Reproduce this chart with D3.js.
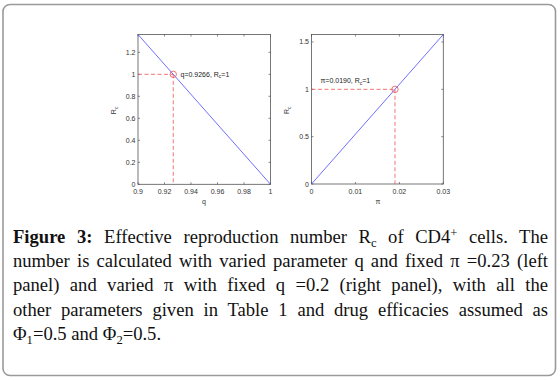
<!DOCTYPE html>
<html><head><meta charset="utf-8">
<script src="https://cdn.jsdelivr.net/npm/d3@7"></script>
<style>
body{margin:0;background:#fff;}
#wrap{position:relative;width:560px;height:381px;overflow:hidden;}
svg{position:absolute;left:0;top:0;}
.cap{position:absolute;left:13px;width:535px;font-family:"Liberation Serif","Times New Roman",serif;font-size:18.6px;color:#111;white-space:nowrap;line-height:20px;}
.just{text-align:justify;text-align-last:justify;}
.sub{font-size:0.68em;vertical-align:-0.3em;line-height:0;}
.sup{font-size:0.68em;vertical-align:0.45em;line-height:0;}
</style></head>
<body><div id="wrap"></div>
<script>
// Left panel data (q vs Rc)
const qValues = [0.9, 0.9266, 1.0];
const rcLeft = [1.362, 1.0, 0.0];
const qTicks = [0.9, 0.92, 0.94, 0.96, 0.98, 1];
const rcLeftTicks = [0, 0.2, 0.4, 0.6, 0.8, 1, 1.2];
const leftMarker = {x: 0.9266, y: 1};
const leftLabel = "q=0.9266, R";

// Right panel data (pi vs Rc)
const piValues = [0, 0.019, 0.03];
const rcRight = [0, 1.0, 1.579];
const piTicks = [0, 0.01, 0.02, 0.03];
const rcRightTicks = [0, 0.5, 1, 1.5];
const rightMarker = {x: 0.019, y: 1};
const rightLabel = "\u03c0=0.0190, R";

const captionLines = [
  '<b>Figure 3:</b> Effective reproduction number R<span class="sub">c</span> of CD4<span class="sup">+</span> cells. The',
  'number is calculated with varied parameter q and fixed \u03c0 =0.23 (left',
  'panel) and varied \u03c0 with fixed q =0.2 (right panel), with all the',
  'other parameters given in Table 1 and drug efficacies assumed as',
  '\u03a6<span class="sub">1</span>=0.5 and \u03a6<span class="sub">2</span>=0.5.'
];

const wrap = d3.select("#wrap");
const svg = wrap.append("svg").attr("width",560).attr("height",381);

// rounded border
svg.append("rect").attr("x",3).attr("y",4.5).attr("width",552.5).attr("height",371)
  .attr("rx",7).attr("fill","none").attr("stroke","#9a9a9a").attr("stroke-width",1.6);

const FS = 7;
function panel(opts){
  const {x0,x1,y0,y1,xDom,yDom,xs,ys,xTicks,yTicks,xFmt,yFmt,marker,label,labelX,labelY,xLab,xLabX,yLabX} = opts;
  const x = d3.scaleLinear().domain(xDom).range([x0,x1]);
  const y = d3.scaleLinear().domain(yDom).range([y1,y0]);
  const g = svg.append("g");
  const axColor = "#555";
  const tl = 2;
  g.append("rect").attr("x",x0).attr("y",y0).attr("width",x1-x0).attr("height",y1-y0)
    .attr("fill","none").attr("stroke",axColor).attr("stroke-width",0.8);
  xTicks.forEach(t=>{
    const px = x(t);
    g.append("line").attr("x1",px).attr("x2",px).attr("y1",y1).attr("y2",y1-tl).attr("stroke",axColor).attr("stroke-width",0.7);
    g.append("line").attr("x1",px).attr("x2",px).attr("y1",y0).attr("y2",y0+tl).attr("stroke",axColor).attr("stroke-width",0.7);
    g.append("text").attr("x",px).attr("y",y1+10).attr("text-anchor","middle")
      .attr("font-family","Liberation Sans, Arial, sans-serif").attr("font-size",FS).attr("fill","#333").text(xFmt(t));
  });
  yTicks.forEach(t=>{
    const py = y(t);
    g.append("line").attr("x1",x0).attr("x2",x0+tl).attr("y1",py).attr("y2",py).attr("stroke",axColor).attr("stroke-width",0.7);
    g.append("line").attr("x1",x1).attr("x2",x1-tl).attr("y1",py).attr("y2",py).attr("stroke",axColor).attr("stroke-width",0.7);
    g.append("text").attr("x",x0-2.5).attr("y",py+2.5).attr("text-anchor","end")
      .attr("font-family","Liberation Sans, Arial, sans-serif").attr("font-size",FS).attr("fill","#333").text(yFmt(t));
  });
  g.append("line").attr("x1",x0).attr("x2",x(marker.x)).attr("y1",y(marker.y)).attr("y2",y(marker.y))
    .attr("stroke","#f05050").attr("stroke-width",0.8).attr("stroke-dasharray","4,2.5");
  g.append("line").attr("x1",x(marker.x)).attr("x2",x(marker.x)).attr("y1",y(marker.y)).attr("y2",y1)
    .attr("stroke","#f05050").attr("stroke-width",0.8).attr("stroke-dasharray","4,2.5");
  const pts = xs.map((v,i)=>[v,ys[i]]);
  g.append("path").datum(pts).attr("d",d3.line().x(d=>x(d[0])).y(d=>y(d[1])))
    .attr("fill","none").attr("stroke","#4a4aff").attr("stroke-width",0.8);
  g.append("circle").attr("cx",x(marker.x)).attr("cy",y(marker.y)).attr("r",3.2)
    .attr("fill","none").attr("stroke","#f05050").attr("stroke-width",0.8);
  const t = g.append("text").attr("x",labelX).attr("y",labelY)
    .attr("font-family","Liberation Sans, Arial, sans-serif").attr("font-size",FS).attr("fill","#222");
  t.append("tspan").text(label);
  t.append("tspan").attr("font-size",5).attr("dy",1.6).text("c");
  t.append("tspan").attr("dy",-1.6).text("=1");
  g.append("text").attr("x",xLabX).attr("y",y1+19.5).attr("text-anchor","middle")
    .attr("font-family","Liberation Sans, Arial, sans-serif").attr("font-size",FS).attr("fill","#333").text(xLab);
  const yl = g.append("text").attr("transform",`translate(${yLabX},${(y0+y1)/2+1}) rotate(-90)`)
    .attr("text-anchor","middle").attr("font-family","Liberation Sans, Arial, sans-serif").attr("font-size",FS).attr("fill","#333");
  yl.append("tspan").text("R");
  yl.append("tspan").attr("font-size",5).attr("dy",1.6).text("c");
}

const fmt = d => d3.format("")(+d.toFixed(4));
panel({x0:138,x1:270.5,y0:34.5,y1:184.3,xDom:[0.9,1],yDom:[0,1.362],xs:qValues,ys:rcLeft,
  xTicks:qTicks,yTicks:rcLeftTicks,xFmt:fmt,yFmt:fmt,marker:leftMarker,label:leftLabel,
  labelX:180.5,labelY:76.5,xLab:"q",xLabX:204,yLabX:116});
panel({x0:311.5,x1:443.3,y0:34.5,y1:184,xDom:[0,0.03],yDom:[0,1.579],xs:piValues,ys:rcRight,
  xTicks:piTicks,yTicks:rcRightTicks,xFmt:fmt,yFmt:fmt,marker:rightMarker,label:rightLabel,
  labelX:320.5,labelY:83,xLab:"\u03c0",xLabX:378,yLabX:289});

const baselines = [242, 266.2, 290.4, 314.6, 338.8];
captionLines.forEach((html,i)=>{
  wrap.append("div").attr("class", i<4 ? "cap just" : "cap")
    .style("top",(baselines[i]-15)+"px").html(html);
});
</script>
</body></html>
